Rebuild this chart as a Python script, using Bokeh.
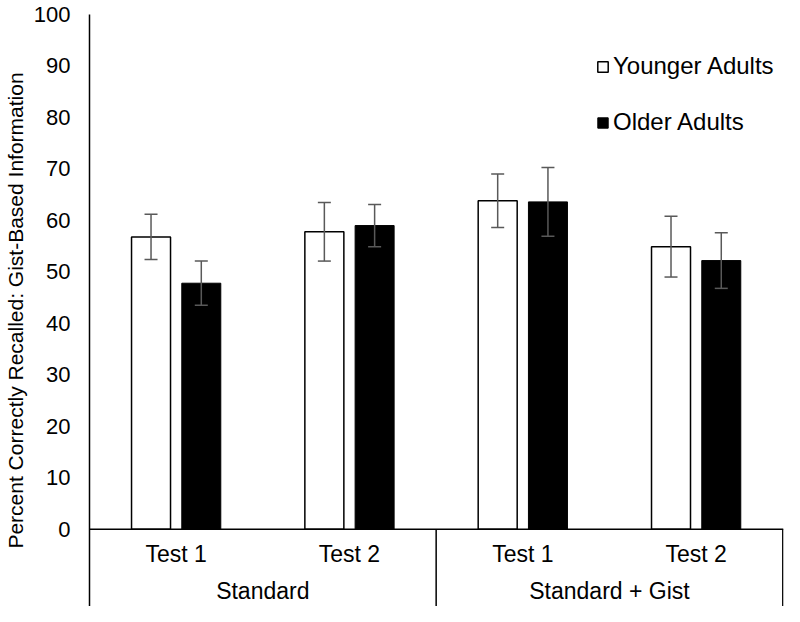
from bokeh.plotting import figure
from bokeh.models import (ColumnDataSource, Range1d, FixedTicker, Whisker, TeeHead,
                          Legend, LegendItem, LabelSet)
from bokeh.core.properties import value
from bokeh.embed import file_html
from bokeh.resources import INLINE

# ---- data ----
groups = ["Standard", "Standard + Gist"]
tests = ["Test 1", "Test 2", "Test 1", "Test 2"]
younger_mean = [56.8, 57.8, 63.8, 54.9]
younger_err = [4.4, 5.7, 5.2, 5.9]
older_mean = [47.8, 59.0, 63.6, 52.2]
older_err = [4.3, 4.1, 6.7, 5.4]
y_ticks = [0, 10, 20, 30, 40, 50, 60, 70, 80, 90, 100]

FONT = "Liberation Sans"
n = len(tests)
centers = [i + 0.5 for i in range(n)]
off = 0.145
bw = 0.225
ymin = -15.0

yx = [c - off for c in centers]
ox = [c + off for c in centers]
ysrc = ColumnDataSource(dict(x=yx, top=younger_mean,
                             lo=[m - e for m, e in zip(younger_mean, younger_err)],
                             hi=[m + e for m, e in zip(younger_mean, younger_err)]))
osrc = ColumnDataSource(dict(x=ox, top=older_mean,
                             lo=[m - e for m, e in zip(older_mean, older_err)],
                             hi=[m + e for m, e in zip(older_mean, older_err)]))

p = figure(width=784, height=606, output_backend="svg", toolbar_location=None,
           x_range=Range1d(0, 4.004), y_range=Range1d(ymin, 100),
           min_border_left=78, min_border_top=14, min_border_bottom=0, min_border_right=1,
           x_axis_type=None)
p.outline_line_color = None
p.grid.visible = False

ry = p.vbar(x="x", top="top", bottom=0, width=bw, source=ysrc,
            fill_color="white", line_color="black", line_width=1.5)
ro = p.vbar(x="x", top="top", bottom=0, width=bw, source=osrc,
            fill_color="black", line_color="black", line_width=1)

for src in (ysrc, osrc):
    w = Whisker(base="x", upper="hi", lower="lo", source=src, level="overlay",
                line_color="#595959", line_width=1.5,
                upper_head=TeeHead(size=13, line_color="#595959", line_width=1.5),
                lower_head=TeeHead(size=13, line_color="#595959", line_width=1.5))
    p.add_layout(w)

# category frame lines
p.segment(x0=[0], y0=[0], x1=[4.004], y1=[0], line_color="black", line_width=1.5)
p.segment(x0=[2, 4.0], y0=[0, 0], x1=[2, 4.0], y1=[ymin, ymin], line_color="black", line_width=1.5)

# category labels
tsrc = ColumnDataSource(dict(x=centers, y=[-4.8] * n, t=tests))
gsrc = ColumnDataSource(dict(x=[1.0, 3.0], y=[-11.9, -11.9], t=groups))
for src in (tsrc, gsrc):
    p.add_layout(LabelSet(x="x", y="y", text="t", source=src, text_align="center",
                          text_baseline="middle", text_font=value(FONT),
                          text_font_size=value("23px"),
                          text_color="black", level="overlay"))

ax = p.yaxis[0]
ax.ticker = FixedTicker(ticks=y_ticks)
ax.axis_label = "Percent Correctly Recalled: Gist-Based Information"
ax.axis_label_text_font = FONT
ax.axis_label_text_font_size = "21px"
ax.axis_label_text_font_style = "normal"
ax.axis_label_text_color = "black"
ax.axis_label_standoff = 4
ax.major_label_text_font = FONT
ax.major_label_text_font_size = "22px"
ax.major_label_text_color = "black"
ax.major_label_standoff = 13
ax.major_tick_line_color = None
ax.minor_tick_line_color = None
ax.axis_line_color = "black"
ax.axis_line_width = 1.5

legend = Legend(items=[LegendItem(label="Younger Adults", renderers=[ry]),
                       LegendItem(label="Older Adults", renderers=[ro])],
                location=(507, 470), padding=0, margin=0, spacing=28,
                glyph_width=13, glyph_height=13, label_standoff=4,
                label_text_font=FONT, label_text_font_size="24px",
                label_text_color="black",
                border_line_color=None, background_fill_alpha=0)
p.add_layout(legend)

open("out.html", "w").write(file_html(p, INLINE))
